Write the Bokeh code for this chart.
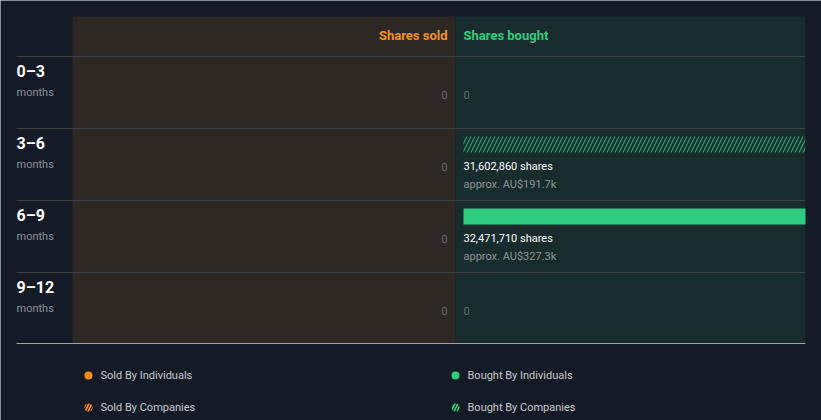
from bokeh.plotting import figure
from bokeh.models import Range1d
from bokeh.core.properties import value
from bokeh.embed import file_html
from bokeh.resources import INLINE

# ---- data ----
periods = ["0–3", "3–6", "6–9", "9–12"]
period_unit = ["months", "months", "months", "months"]
sold_individuals = [0, 0, 0, 0]
sold_companies = [0, 0, 0, 0]
bought_individuals = [0, 0, 32471710, 0]
bought_companies = [0, 31602860, 0, 0]
bought_value = ["", "AU$191.7k", "AU$327.3k", ""]
legend_labels = ["Sold By Individuals", "Sold By Companies", "Bought By Individuals", "Bought By Companies"]

# ---- style ----
BG = "#151b26"
SOLD_BG = "#2d2823"
BOUGHT_BG = "#182c2e"
GRID = "#3a3e42"
ORANGE = "#f5901f"
GREEN = "#2ecc80"
FONT = value("Roboto")

W, H = 821, 420
p = figure(width=W, height=H, x_range=Range1d(0, W), y_range=Range1d(H, 0),
           output_backend="svg", toolbar_location=None,
           x_axis_location=None, y_axis_location=None, min_border=0,
           background_fill_color=BG, border_fill_color=BG, outline_line_color=None)
p.grid.visible = False

left0, mid, right0 = 72, 455, 805
top0, head_bot, row_h = 16, 56, 72
bottom = head_bot + row_h * len(periods) - 1
bar_x0 = 463

# bought-side value scale: bar starts at bar_x0, full panel width = largest companies bar
scale_max = max(v for v in bought_companies if v > 0)
px_per_unit = (right0 - bar_x0) / scale_max
p.extra_x_ranges = {"bought": Range1d(start=-bar_x0 / px_per_unit, end=(W - bar_x0) / px_per_unit)}

# panels
p.quad(left=[left0], right=[mid], top=[top0], bottom=[bottom], fill_color=SOLD_BG, line_color=None)
p.quad(left=[mid], right=[right0], top=[top0], bottom=[bottom], fill_color=BOUGHT_BG, line_color=None)

# row lines
ys = [head_bot + row_h * i for i in range(len(periods))]
p.segment(x0=[16] * len(ys), x1=[right0] * len(ys), y0=ys, y1=ys, line_color=GRID, line_width=1)
p.segment(x0=[16], x1=[right0], y0=[bottom], y1=[bottom], line_color="#9ea3a8", line_width=1)

# headers
p.text(x=[mid - 8], y=[35], text=["Shares sold"], text_color=ORANGE, text_font=FONT,
       text_font_size="13px", text_font_style="bold", text_align="right", text_baseline="middle")
p.text(x=[bar_x0], y=[35], text=["Shares bought"], text_color=GREEN, text_font=FONT,
       text_font_size="13px", text_font_style="bold", text_align="left", text_baseline="middle")

# row labels
p.text(x=[16] * 4, y=[t + 15 for t in ys], text=periods, text_color="#ffffff", text_font=FONT,
       text_font_size="16px", text_font_style="bold", text_baseline="middle")
p.text(x=[16] * 4, y=[t + 36 for t in ys], text=period_unit, text_color="#8a8f97", text_font=FONT,
       text_font_size="11px", text_baseline="middle")

# sold side zeros
sold_zero_y = [t + 38 for t, a, b in zip(ys, sold_individuals, sold_companies) if a + b == 0]
p.text(x=[mid - 8] * len(sold_zero_y), y=sold_zero_y, text=["0"] * len(sold_zero_y), text_color="#656b72",
       text_font=FONT, text_font_size="11px", text_align="right", text_baseline="middle")

# bought side
zero_y, bars_ind, bars_co, lab_y, lab_t, lab_v = [], [], [], [], [], []
for t, ind, co, v in zip(ys, bought_individuals, bought_companies, bought_value):
    total = ind + co
    if total == 0:
        zero_y.append(t + 38)
        continue
    if ind > 0:
        bars_ind.append((t + 16, ind))
    if co > 0:
        bars_co.append((t + 16, co))
    lab_y.append(t + 38)
    lab_t.append(f"{total:,} shares")
    lab_v.append(f"approx. {v}")

p.text(x=[bar_x0] * len(zero_y), y=zero_y, text=["0"] * len(zero_y), text_color="#5f6f70",
       text_font=FONT, text_font_size="11px", text_align="left", text_baseline="middle")

if bars_ind:
    p.hbar(y=[b[0] for b in bars_ind], left=0, right=[b[1] for b in bars_ind], height=16,
           fill_color=GREEN, line_color=None, x_range_name="bought")
if bars_co:
    p.hbar(y=[b[0] for b in bars_co], left=0, right=[b[1] for b in bars_co], height=16,
           fill_color=None, line_color=None, hatch_pattern="/", hatch_color="#2a9e6a",
           hatch_scale=8, hatch_weight=1.3, x_range_name="bought")
# clip bars at panel edge
p.quad(left=[right0], right=[W], top=[top0], bottom=[bottom], fill_color=BG, line_color=None)

p.text(x=[bar_x0] * len(lab_y), y=lab_y, text=lab_t, text_color="#ffffff", text_font=FONT,
       text_font_size="11px", text_baseline="middle")
p.text(x=[bar_x0] * len(lab_y), y=[y + 18 for y in lab_y], text=lab_v, text_color="#8a9496", text_font=FONT,
       text_font_size="11px", text_baseline="middle")

# legend
lx = [88, 88, 455, 455]
ly = [375, 407, 375, 407]
p.scatter(x=[lx[0]], y=[ly[0]], size=8, fill_color="#ff8c0f", line_color=None)
p.scatter(x=[lx[2]], y=[ly[2]], size=8, fill_color=GREEN, line_color=None)
p.scatter(x=[lx[1]], y=[ly[1]], size=8, fill_color="#3a2a17", line_color=None,
          hatch_pattern="/", hatch_color="#ff8c0f", hatch_scale=6, hatch_weight=1.6)
p.scatter(x=[lx[3]], y=[ly[3]], size=8, fill_color="#1a3a30", line_color=None,
          hatch_pattern="/", hatch_color=GREEN, hatch_scale=6, hatch_weight=1.6)
p.text(x=[x + 12 for x in lx], y=ly, text=legend_labels, text_color="#c6c9ce", text_font=FONT,
       text_font_size="11px", text_baseline="middle")

open("out.html", "w").write(file_html(p, INLINE))
